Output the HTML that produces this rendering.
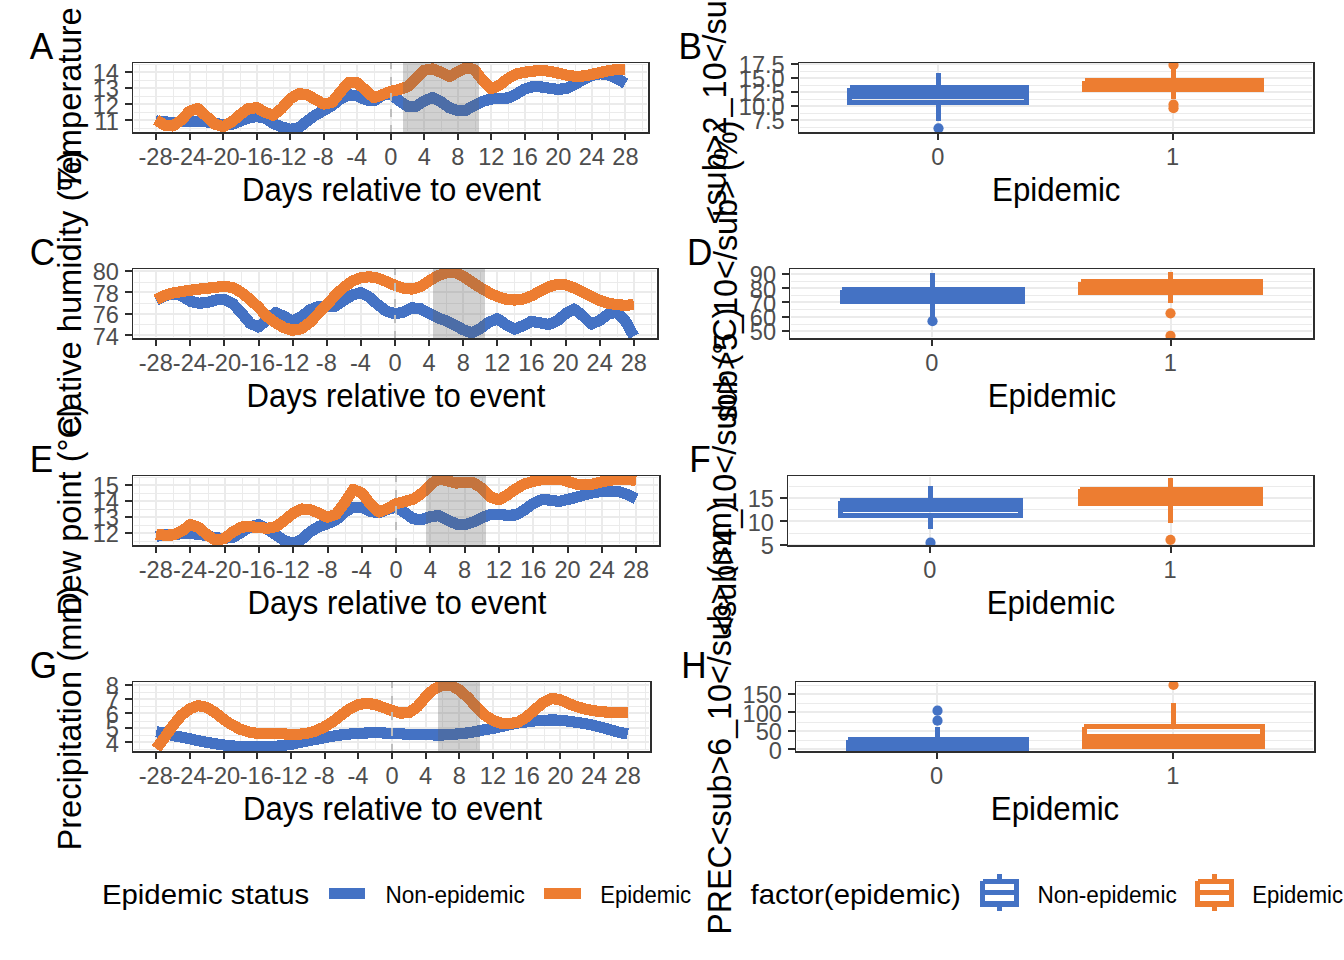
<!DOCTYPE html>
<html><head><meta charset="utf-8"><title>Figure</title>
<style>html,body{margin:0;padding:0;background:#fff}svg{display:block}text{font-family:"Liberation Sans",Arial,sans-serif}</style></head>
<body>
<svg width="1344" height="960" viewBox="0 0 1344 960" shape-rendering="crispEdges">
<rect width="1344" height="960" fill="#fff"/>
<defs><clipPath id="cutB"><rect x="0" y="0" width="1344" height="227.5"/></clipPath><clipPath id="cutC"><rect x="0" y="0" width="1344" height="436.6"/></clipPath><clipPath id="cutD"><rect x="0" y="0" width="1344" height="422.6"/></clipPath><clipPath id="cutF"><rect x="0" y="0" width="1344" height="641"/></clipPath></defs>
<clipPath id="cl0"><rect x="132.6" y="62.6" width="516.6" height="70.3"/></clipPath>
<g clip-path="url(#cl0)">
<path d="M134 64.5H647M134 80.5H647M134 96.5H647M134 112.5H647M134 128.5H647M139.5 64V131M173.5 64V131M206.5 64V131M240.5 64V131M273.5 64V131M307.5 64V131M340.5 64V131M374.5 64V131M407.5 64V131M441.5 64V131M475.5 64V131M508.5 64V131M542.5 64V131M575.5 64V131M609.5 64V131M642.5 64V131" stroke="#EBEBEB" stroke-width="1" fill="none"/>
<path d="M134 72H647M134 88H647M134 104H647M134 120H647M156 64V131M190 64V131M223 64V131M257 64V131M290 64V131M324 64V131M357 64V131M391 64V131M424 64V131M458 64V131M491 64V131M525 64V131M558 64V131M592 64V131M625 64V131" stroke="#EBEBEB" stroke-width="2" fill="none"/>
<polyline points="155.98,120.88 164.36,121.75 172.74,122.62 181.12,121.62 189.51,121.25 197.89,121.5 206.27,121.88 214.66,123.12 223.04,124.75 231.42,124.5 239.81,121.25 248.19,118.12 256.57,116.62 264.95,117.81 273.34,123.56 281.72,126.88 290.1,129.25 298.49,128.12 306.87,121.25 315.25,115 323.64,110.62 332.02,105.62 340.4,99 348.78,94.75 357.17,95.62 365.55,99.75 373.93,100.88 382.32,95.25 390.7,93.75 399.08,100.69 407.47,106.38 415.85,106.38 424.23,100.94 432.62,97.5 441,101.88 449.38,107.75 457.76,110.5 466.15,110.12 474.53,105.25 482.91,101.25 491.3,99 499.68,98.38 508.06,98 516.44,93.88 524.83,89 533.21,86.5 541.59,87 549.98,88.31 558.36,89.44 566.74,88.25 575.13,84.38 583.51,79.38 591.89,75.5 600.27,73.75 608.66,75 617.04,78.5 625.42,83.5" fill="none" stroke="#4472C4" stroke-width="11.2" stroke-linejoin="round" stroke-linecap="butt"/>
<polyline points="155.98,119.75 164.36,125 172.74,126 181.12,120.25 189.51,111.25 197.89,108.5 206.27,116.25 214.66,124 223.04,126.62 231.42,122.12 239.81,115 248.19,108.75 256.57,107.62 264.95,112.19 273.34,115.25 281.72,108.44 290.1,98.88 298.49,93.75 306.87,94.5 315.25,99.38 323.64,104 332.02,102.5 340.4,91.88 348.78,82.25 357.17,82.75 365.55,90.25 373.93,97.75 382.32,94.75 390.7,91.38 399.08,89.5 407.47,86.75 415.85,78.56 424.23,70.31 432.62,69 441,72.25 449.38,76.62 457.76,71.88 466.15,67.5 474.53,69.75 482.91,80.62 491.3,88.75 499.68,85 508.06,78.5 516.44,74 524.83,72.25 533.21,71.12 541.59,70.38 549.98,71.31 558.36,73.19 566.74,75.12 575.13,76.38 583.51,76 591.89,74.38 600.27,72.5 608.66,70.62 617.04,69.5 625.42,69.38" fill="none" stroke="#ED7D31" stroke-width="11.2" stroke-linejoin="round" stroke-linecap="butt"/>
<path d="M391 132.9V62.6" stroke="#BEBEBE" stroke-width="2" stroke-dasharray="7.7 8.3" fill="none"/>
<rect x="403" y="62.6" width="76" height="70.3" fill="#606060" fill-opacity="0.29"/>
</g>
<path d="M132.5 62V134M132 62.5H650" stroke="#2E2E2E" stroke-width="1" fill="none"/>
<path d="M649 62V134M132 133H650" stroke="#2E2E2E" stroke-width="2" fill="none"/>
<path d="M125.1 72H132M125.1 88H132M125.1 104H132M125.1 120H132M156 134V140.2M190 134V140.2M223 134V140.2M257 134V140.2M290 134V140.2M324 134V140.2M357 134V140.2M391 134V140.2M424 134V140.2M458 134V140.2M491 134V140.2M525 134V140.2M558 134V140.2M592 134V140.2M625 134V140.2" stroke="#2E2E2E" stroke-width="2" fill="none"/>
<g font-size="24.3" fill="#4D4D4D">
<text x="119" y="81.3" text-anchor="end" textLength="26.25" lengthAdjust="spacingAndGlyphs">14</text>
<text x="119" y="97.4" text-anchor="end" textLength="26.25" lengthAdjust="spacingAndGlyphs">13</text>
<text x="119" y="113.5" text-anchor="end" textLength="26.25" lengthAdjust="spacingAndGlyphs">12</text>
<text x="119" y="129.6" text-anchor="end" textLength="24.5" lengthAdjust="spacingAndGlyphs">11</text>
<text x="155.58" y="164.8" text-anchor="middle" textLength="34.11" lengthAdjust="spacingAndGlyphs">-28</text>
<text x="189.11" y="164.8" text-anchor="middle" textLength="34.11" lengthAdjust="spacingAndGlyphs">-24</text>
<text x="222.64" y="164.8" text-anchor="middle" textLength="34.11" lengthAdjust="spacingAndGlyphs">-20</text>
<text x="256.17" y="164.8" text-anchor="middle" textLength="34.11" lengthAdjust="spacingAndGlyphs">-16</text>
<text x="289.7" y="164.8" text-anchor="middle" textLength="34.11" lengthAdjust="spacingAndGlyphs">-12</text>
<text x="323.24" y="164.8" text-anchor="middle" textLength="20.98" lengthAdjust="spacingAndGlyphs">-8</text>
<text x="356.77" y="164.8" text-anchor="middle" textLength="20.98" lengthAdjust="spacingAndGlyphs">-4</text>
<text x="390.7" y="164.8" text-anchor="middle" textLength="13.13" lengthAdjust="spacingAndGlyphs">0</text>
<text x="424.23" y="164.8" text-anchor="middle" textLength="13.13" lengthAdjust="spacingAndGlyphs">4</text>
<text x="457.76" y="164.8" text-anchor="middle" textLength="13.13" lengthAdjust="spacingAndGlyphs">8</text>
<text x="491.3" y="164.8" text-anchor="middle" textLength="26.25" lengthAdjust="spacingAndGlyphs">12</text>
<text x="524.83" y="164.8" text-anchor="middle" textLength="26.25" lengthAdjust="spacingAndGlyphs">16</text>
<text x="558.36" y="164.8" text-anchor="middle" textLength="26.25" lengthAdjust="spacingAndGlyphs">20</text>
<text x="591.89" y="164.8" text-anchor="middle" textLength="26.25" lengthAdjust="spacingAndGlyphs">24</text>
<text x="625.42" y="164.8" text-anchor="middle" textLength="26.25" lengthAdjust="spacingAndGlyphs">28</text>
</g>
<text x="391.5" y="200.8" font-size="33.0" text-anchor="middle" textLength="299" lengthAdjust="spacingAndGlyphs">Days relative to event</text>
<g><text transform="translate(81.0 98.95) rotate(-90)" font-size="33.6" text-anchor="middle" textLength="183.5" lengthAdjust="spacingAndGlyphs">Temperature</text></g>
<text x="29.8" y="58.8" font-size="36.4" textLength="23.48" lengthAdjust="spacingAndGlyphs">A</text>
<clipPath id="cl1"><rect x="132.6" y="268.7" width="525.5" height="70.2"/></clipPath>
<g clip-path="url(#cl1)">
<path d="M134 282.5H656M134 303.5H656M134 324.5H656M139.5 270V337M173.5 270V337M207.5 270V337M241.5 270V337M276.5 270V337M310.5 270V337M344.5 270V337M378.5 270V337M412.5 270V337M446.5 270V337M480.5 270V337M514.5 270V337M549.5 270V337M583.5 270V337M617.5 270V337M651.5 270V337" stroke="#EBEBEB" stroke-width="1" fill="none"/>
<path d="M134 271H656M134 292H656M134 314H656M134 335H656M156 270V337M190 270V337M224 270V337M259 270V337M293 270V337M327 270V337M361 270V337M395 270V337M429 270V337M463 270V337M497 270V337M531 270V337M566 270V337M600 270V337M634 270V337" stroke="#EBEBEB" stroke-width="2" fill="none"/>
<polyline points="156.16,300.12 164.69,295.62 173.22,293.75 181.75,295.75 190.28,301.25 198.81,303.25 207.34,302.5 215.87,300 224.4,299.25 232.93,303.75 241.46,312.88 249.99,323.25 258.52,327 267.05,319.75 275.58,312.62 284.11,316.31 292.64,321.19 301.17,316.88 309.7,310 318.23,306.62 326.76,306.62 335.29,306.25 343.82,300.38 352.35,295 360.88,292.5 369.41,297.25 377.94,304.75 386.47,311.25 395,313.69 403.53,312.12 412.06,307.81 420.59,308.75 429.12,313.44 437.65,317.75 446.18,320.75 454.71,325 463.24,329.75 471.77,332.88 480.3,328.5 488.83,322.25 497.36,318.75 505.89,324.5 514.42,329.12 522.95,325.75 531.48,321.25 540.01,322.88 548.54,324.5 557.07,321 565.6,313.75 574.13,309 582.66,315.75 591.19,324.12 599.72,320.38 608.25,314.12 616.78,312 625.31,320.88 633.84,336.25" fill="none" stroke="#4472C4" stroke-width="11.2" stroke-linejoin="round" stroke-linecap="butt"/>
<polyline points="156.16,299.75 164.69,295.38 173.22,293 181.75,291.5 190.28,290.25 198.81,289.12 207.34,288.25 215.87,287.25 224.4,286.38 232.93,287.5 241.46,292.5 249.99,299.5 258.52,307.25 267.05,316.62 275.58,322.81 284.11,327.69 292.64,330.31 301.17,328.75 309.7,322.5 318.23,313.75 326.76,304.75 335.29,295.38 343.82,287.25 352.35,281 360.88,277.62 369.41,276.75 377.94,278.25 386.47,281.62 395,285.38 403.53,288.12 412.06,289.06 420.59,286.62 429.12,281 437.65,275.75 446.18,272.88 454.71,272.25 463.24,276.25 471.77,282 480.3,287.62 488.83,292.5 497.36,296.62 505.89,299.12 514.42,300 522.95,299.12 531.48,295.88 540.01,291.31 548.54,286.81 557.07,284.5 565.6,284.88 574.13,287.88 582.66,292 591.19,296.38 599.72,300.5 608.25,303.25 616.78,304.5 625.31,305.38 633.84,304.5" fill="none" stroke="#ED7D31" stroke-width="11.2" stroke-linejoin="round" stroke-linecap="butt"/>
<path d="M395 338.9V268.7" stroke="#BEBEBE" stroke-width="2" stroke-dasharray="7.7 8.3" fill="none"/>
<rect x="433" y="268.7" width="52" height="70.2" fill="#606060" fill-opacity="0.29"/>
</g>
<path d="M132.5 268V340M132 268.5H659" stroke="#2E2E2E" stroke-width="1" fill="none"/>
<path d="M658 268V340M132 339H659" stroke="#2E2E2E" stroke-width="2" fill="none"/>
<path d="M125.1 271H132M125.1 292H132M125.1 314H132M125.1 335H132M156 340V346.2M190 340V346.2M224 340V346.2M259 340V346.2M293 340V346.2M327 340V346.2M361 340V346.2M395 340V346.2M429 340V346.2M463 340V346.2M497 340V346.2M531 340V346.2M566 340V346.2M600 340V346.2M634 340V346.2" stroke="#2E2E2E" stroke-width="2" fill="none"/>
<g font-size="24.3" fill="#4D4D4D">
<text x="119" y="280.4" text-anchor="end" textLength="26.25" lengthAdjust="spacingAndGlyphs">80</text>
<text x="119" y="301.85" text-anchor="end" textLength="26.25" lengthAdjust="spacingAndGlyphs">78</text>
<text x="119" y="323.3" text-anchor="end" textLength="26.25" lengthAdjust="spacingAndGlyphs">76</text>
<text x="119" y="344.75" text-anchor="end" textLength="26.25" lengthAdjust="spacingAndGlyphs">74</text>
<text x="155.76" y="370.8" text-anchor="middle" textLength="34.11" lengthAdjust="spacingAndGlyphs">-28</text>
<text x="189.88" y="370.8" text-anchor="middle" textLength="34.11" lengthAdjust="spacingAndGlyphs">-24</text>
<text x="224" y="370.8" text-anchor="middle" textLength="34.11" lengthAdjust="spacingAndGlyphs">-20</text>
<text x="258.12" y="370.8" text-anchor="middle" textLength="34.11" lengthAdjust="spacingAndGlyphs">-16</text>
<text x="292.24" y="370.8" text-anchor="middle" textLength="34.11" lengthAdjust="spacingAndGlyphs">-12</text>
<text x="326.36" y="370.8" text-anchor="middle" textLength="20.98" lengthAdjust="spacingAndGlyphs">-8</text>
<text x="360.48" y="370.8" text-anchor="middle" textLength="20.98" lengthAdjust="spacingAndGlyphs">-4</text>
<text x="395" y="370.8" text-anchor="middle" textLength="13.13" lengthAdjust="spacingAndGlyphs">0</text>
<text x="429.12" y="370.8" text-anchor="middle" textLength="13.13" lengthAdjust="spacingAndGlyphs">4</text>
<text x="463.24" y="370.8" text-anchor="middle" textLength="13.13" lengthAdjust="spacingAndGlyphs">8</text>
<text x="497.36" y="370.8" text-anchor="middle" textLength="26.25" lengthAdjust="spacingAndGlyphs">12</text>
<text x="531.48" y="370.8" text-anchor="middle" textLength="26.25" lengthAdjust="spacingAndGlyphs">16</text>
<text x="565.6" y="370.8" text-anchor="middle" textLength="26.25" lengthAdjust="spacingAndGlyphs">20</text>
<text x="599.72" y="370.8" text-anchor="middle" textLength="26.25" lengthAdjust="spacingAndGlyphs">24</text>
<text x="633.84" y="370.8" text-anchor="middle" textLength="26.25" lengthAdjust="spacingAndGlyphs">28</text>
</g>
<text x="395.95" y="406.8" font-size="33.0" text-anchor="middle" textLength="299" lengthAdjust="spacingAndGlyphs">Days relative to event</text>
<g clip-path="url(#cutC)"><text transform="translate(81.0 305) rotate(-90)" font-size="33.6" text-anchor="middle" textLength="308.5" lengthAdjust="spacingAndGlyphs">Relative humidity (%)</text></g>
<text x="29.8" y="265.3" font-size="36.4" textLength="25.42" lengthAdjust="spacingAndGlyphs">C</text>
<clipPath id="cl2"><rect x="132.6" y="475.6" width="527.6" height="70.3"/></clipPath>
<g clip-path="url(#cl2)">
<path d="M134 477.5H658M134 493.5H658M134 509.5H658M134 525.5H658M134 541.5H658M139.5 477V544M173.5 477V544M208.5 477V544M242.5 477V544M276.5 477V544M310.5 477V544M345.5 477V544M379.5 477V544M413.5 477V544M448.5 477V544M482.5 477V544M516.5 477V544M550.5 477V544M585.5 477V544M619.5 477V544M653.5 477V544" stroke="#EBEBEB" stroke-width="1" fill="none"/>
<path d="M134 485H658M134 501H658M134 517H658M134 533H658M156 477V544M190 477V544M225 477V544M259 477V544M293 477V544M328 477V544M362 477V544M396 477V544M430 477V544M465 477V544M499 477V544M533 477V544M568 477V544M602 477V544M636 477V544" stroke="#EBEBEB" stroke-width="2" fill="none"/>
<polyline points="156.14,536.38 164.71,534.88 173.28,534.62 181.85,533.62 190.42,533.62 198.99,534.25 207.56,535.75 216.13,538 224.7,538.25 233.27,537.12 241.84,532 250.41,526.75 258.98,524.5 267.55,529.44 276.12,534.88 284.69,540.88 293.26,543.5 301.83,539.25 310.4,531.75 318.97,526.5 327.54,523.62 336.11,519.88 344.68,512 353.25,507.25 361.82,507.38 370.39,511.5 378.96,512.75 387.53,509.25 396.1,507.19 404.67,512.62 413.24,518.81 421.81,519.5 430.38,516.75 438.95,515.5 447.52,519.88 456.09,524 464.66,524.88 473.23,522 481.8,517.75 490.37,514.5 498.94,514.5 507.51,515.25 516.08,514.88 524.65,509.88 533.22,503.44 541.79,499.62 550.36,500.12 558.93,501.5 567.5,499.5 576.07,497.38 584.64,494.88 593.21,492.62 601.78,491.38 610.35,490.88 618.92,491.75 627.49,494.5 636.06,498.62" fill="none" stroke="#4472C4" stroke-width="11.2" stroke-linejoin="round" stroke-linecap="butt"/>
<polyline points="156.14,534 164.71,535.25 173.28,534.88 181.85,531.12 190.42,524.5 198.99,527.5 207.56,535.25 216.13,540.5 224.7,538.38 233.27,531.5 241.84,527 250.41,526.75 258.98,527.5 267.55,528.38 276.12,526.62 284.69,520.19 293.26,513.12 301.83,509 310.4,509.75 318.97,513.25 327.54,517.25 336.11,514.25 344.68,502.75 353.25,489.5 361.82,493 370.39,504 378.96,512 387.53,508.62 396.1,503.69 404.67,501.5 413.24,499.25 421.81,493.25 430.38,484.88 438.95,478.38 447.52,480.88 456.09,483 464.66,482.38 473.23,482.62 481.8,488.25 490.37,497 498.94,499.88 507.51,494.88 516.08,488.62 524.65,484 533.22,481.25 541.79,479.69 550.36,478.94 558.93,478.94 567.5,481.38 576.07,484 584.64,484.88 593.21,484 601.78,481.75 610.35,480.12 618.92,479.25 627.49,479.5 636.06,480.5" fill="none" stroke="#ED7D31" stroke-width="11.2" stroke-linejoin="round" stroke-linecap="butt"/>
<path d="M396 545.9V475.6" stroke="#BEBEBE" stroke-width="2" stroke-dasharray="7.7 8.3" fill="none"/>
<rect x="426" y="475.6" width="60" height="70.3" fill="#606060" fill-opacity="0.29"/>
</g>
<path d="M132.5 475V547M132 475.5H661" stroke="#2E2E2E" stroke-width="1" fill="none"/>
<path d="M660 475V547M132 546H661" stroke="#2E2E2E" stroke-width="2" fill="none"/>
<path d="M125.1 485H132M125.1 501H132M125.1 517H132M125.1 533H132M156 547V553.2M190 547V553.2M225 547V553.2M259 547V553.2M293 547V553.2M328 547V553.2M362 547V553.2M396 547V553.2M430 547V553.2M465 547V553.2M499 547V553.2M533 547V553.2M568 547V553.2M602 547V553.2M636 547V553.2" stroke="#2E2E2E" stroke-width="2" fill="none"/>
<g font-size="24.3" fill="#4D4D4D">
<text x="119" y="494.3" text-anchor="end" textLength="26.25" lengthAdjust="spacingAndGlyphs">15</text>
<text x="119" y="510.35" text-anchor="end" textLength="26.25" lengthAdjust="spacingAndGlyphs">14</text>
<text x="119" y="526.4" text-anchor="end" textLength="26.25" lengthAdjust="spacingAndGlyphs">13</text>
<text x="119" y="542.45" text-anchor="end" textLength="26.25" lengthAdjust="spacingAndGlyphs">12</text>
<text x="155.74" y="577.8" text-anchor="middle" textLength="34.11" lengthAdjust="spacingAndGlyphs">-28</text>
<text x="190.02" y="577.8" text-anchor="middle" textLength="34.11" lengthAdjust="spacingAndGlyphs">-24</text>
<text x="224.3" y="577.8" text-anchor="middle" textLength="34.11" lengthAdjust="spacingAndGlyphs">-20</text>
<text x="258.58" y="577.8" text-anchor="middle" textLength="34.11" lengthAdjust="spacingAndGlyphs">-16</text>
<text x="292.86" y="577.8" text-anchor="middle" textLength="34.11" lengthAdjust="spacingAndGlyphs">-12</text>
<text x="327.14" y="577.8" text-anchor="middle" textLength="20.98" lengthAdjust="spacingAndGlyphs">-8</text>
<text x="361.42" y="577.8" text-anchor="middle" textLength="20.98" lengthAdjust="spacingAndGlyphs">-4</text>
<text x="396.1" y="577.8" text-anchor="middle" textLength="13.13" lengthAdjust="spacingAndGlyphs">0</text>
<text x="430.38" y="577.8" text-anchor="middle" textLength="13.13" lengthAdjust="spacingAndGlyphs">4</text>
<text x="464.66" y="577.8" text-anchor="middle" textLength="13.13" lengthAdjust="spacingAndGlyphs">8</text>
<text x="498.94" y="577.8" text-anchor="middle" textLength="26.25" lengthAdjust="spacingAndGlyphs">12</text>
<text x="533.22" y="577.8" text-anchor="middle" textLength="26.25" lengthAdjust="spacingAndGlyphs">16</text>
<text x="567.5" y="577.8" text-anchor="middle" textLength="26.25" lengthAdjust="spacingAndGlyphs">20</text>
<text x="601.78" y="577.8" text-anchor="middle" textLength="26.25" lengthAdjust="spacingAndGlyphs">24</text>
<text x="636.06" y="577.8" text-anchor="middle" textLength="26.25" lengthAdjust="spacingAndGlyphs">28</text>
</g>
<text x="397" y="613.8" font-size="33.0" text-anchor="middle" textLength="299" lengthAdjust="spacingAndGlyphs">Days relative to event</text>
<g><text transform="translate(81.0 510.05) rotate(-90)" font-size="33.6" text-anchor="middle" textLength="211.5" lengthAdjust="spacingAndGlyphs">Dew point (°C)</text></g>
<text x="29.8" y="471.5" font-size="36.4" textLength="23.48" lengthAdjust="spacingAndGlyphs">E</text>
<clipPath id="cl3"><rect x="132.6" y="681.6" width="518.7" height="70.5"/></clipPath>
<g clip-path="url(#cl3)">
<path d="M134 692.5H649M134 706.5H649M134 721.5H649M134 735.5H649M134 749.5H649M139.5 683V750M173.5 683V750M207.5 683V750M240.5 683V750M274.5 683V750M308.5 683V750M341.5 683V750M375.5 683V750M409.5 683V750M442.5 683V750M476.5 683V750M510.5 683V750M544.5 683V750M577.5 683V750M611.5 683V750M645.5 683V750" stroke="#EBEBEB" stroke-width="1" fill="none"/>
<path d="M134 685H649M134 699H649M134 713H649M134 728H649M134 742H649M156 683V750M190 683V750M224 683V750M257 683V750M291 683V750M325 683V750M358 683V750M392 683V750M426 683V750M459 683V750M493 683V750M527 683V750M560 683V750M594 683V750M628 683V750" stroke="#EBEBEB" stroke-width="2" fill="none"/>
<polyline points="156.19,731.75 164.61,733 173.03,735.62 181.45,737.12 189.87,738.75 198.29,740.75 206.71,742.25 215.13,743.75 223.55,745 231.97,745.88 240.39,746.5 248.81,746.88 257.23,746.88 265.65,746.88 274.07,746.5 282.49,745.5 290.91,744.44 299.33,742.5 307.75,740.88 316.17,739.25 324.59,737.75 333.01,736.12 341.43,734.88 349.85,734 358.27,733.38 366.69,733 375.11,732.38 383.53,733 391.95,733.38 400.37,733.75 408.79,734.38 417.21,734.44 425.63,734.44 434.05,735 442.47,735 450.89,734.5 459.31,733.75 467.73,732.88 476.15,731.5 484.57,729.75 492.99,728.38 501.41,726.5 509.83,724.62 518.25,723 526.67,721.88 535.09,720.81 543.51,720.31 551.93,719.94 560.35,720.25 568.77,721.25 577.19,722.5 585.61,723.75 594.03,725.5 602.45,727.5 610.87,730 619.29,732.38 627.71,734" fill="none" stroke="#4472C4" stroke-width="11.2" stroke-linejoin="round" stroke-linecap="butt"/>
<polyline points="156.19,748.62 164.61,737.62 173.03,725.5 181.45,715.25 189.87,708.88 198.29,705.5 206.71,707.5 215.13,712.5 223.55,719.25 231.97,724.88 240.39,729.25 248.81,732 257.23,733.38 265.65,733.38 274.07,733.5 282.49,733.75 290.91,734.5 299.33,734.25 307.75,733 316.17,730.88 324.59,726.75 333.01,721.5 341.43,715 349.85,708.75 358.27,704.62 366.69,703.38 375.11,704.5 383.53,707.5 391.95,710.5 400.37,713 408.79,712.75 417.21,706.94 425.63,696.94 434.05,689 442.47,685.25 450.89,685.25 459.31,690 467.73,697.5 476.15,706.5 484.57,715 492.99,720.5 501.41,723.25 509.83,723.5 518.25,722.12 526.67,716.94 535.09,709.44 543.51,702.44 551.93,698.44 560.35,699.75 568.77,703.75 577.19,706.75 585.61,709.25 594.03,710.75 602.45,711.75 610.87,712.5 619.29,712.5 627.71,712.5" fill="none" stroke="#ED7D31" stroke-width="11.2" stroke-linejoin="round" stroke-linecap="butt"/>
<path d="M392 752.1V681.6" stroke="#BEBEBE" stroke-width="2" stroke-dasharray="7.7 8.3" fill="none"/>
<rect x="438" y="681.6" width="42" height="70.5" fill="#606060" fill-opacity="0.29"/>
</g>
<path d="M132.5 681V753M132 681.5H652" stroke="#2E2E2E" stroke-width="1" fill="none"/>
<path d="M651 681V753M132 752H652" stroke="#2E2E2E" stroke-width="2" fill="none"/>
<path d="M125.1 685H132M125.1 699H132M125.1 713H132M125.1 728H132M125.1 742H132M156 753V759.4M190 753V759.4M224 753V759.4M257 753V759.4M291 753V759.4M325 753V759.4M358 753V759.4M392 753V759.4M426 753V759.4M459 753V759.4M493 753V759.4M527 753V759.4M560 753V759.4M594 753V759.4M628 753V759.4" stroke="#2E2E2E" stroke-width="2" fill="none"/>
<g font-size="24.3" fill="#4D4D4D">
<text x="119" y="694.2" text-anchor="end" textLength="13.13" lengthAdjust="spacingAndGlyphs">8</text>
<text x="119" y="708.6" text-anchor="end" textLength="13.13" lengthAdjust="spacingAndGlyphs">7</text>
<text x="119" y="722.9" text-anchor="end" textLength="13.13" lengthAdjust="spacingAndGlyphs">6</text>
<text x="119" y="737.3" text-anchor="end" textLength="13.13" lengthAdjust="spacingAndGlyphs">5</text>
<text x="119" y="751.7" text-anchor="end" textLength="13.13" lengthAdjust="spacingAndGlyphs">4</text>
<text x="155.79" y="784" text-anchor="middle" textLength="34.11" lengthAdjust="spacingAndGlyphs">-28</text>
<text x="189.47" y="784" text-anchor="middle" textLength="34.11" lengthAdjust="spacingAndGlyphs">-24</text>
<text x="223.15" y="784" text-anchor="middle" textLength="34.11" lengthAdjust="spacingAndGlyphs">-20</text>
<text x="256.83" y="784" text-anchor="middle" textLength="34.11" lengthAdjust="spacingAndGlyphs">-16</text>
<text x="290.51" y="784" text-anchor="middle" textLength="34.11" lengthAdjust="spacingAndGlyphs">-12</text>
<text x="324.19" y="784" text-anchor="middle" textLength="20.98" lengthAdjust="spacingAndGlyphs">-8</text>
<text x="357.87" y="784" text-anchor="middle" textLength="20.98" lengthAdjust="spacingAndGlyphs">-4</text>
<text x="391.95" y="784" text-anchor="middle" textLength="13.13" lengthAdjust="spacingAndGlyphs">0</text>
<text x="425.63" y="784" text-anchor="middle" textLength="13.13" lengthAdjust="spacingAndGlyphs">4</text>
<text x="459.31" y="784" text-anchor="middle" textLength="13.13" lengthAdjust="spacingAndGlyphs">8</text>
<text x="492.99" y="784" text-anchor="middle" textLength="26.25" lengthAdjust="spacingAndGlyphs">12</text>
<text x="526.67" y="784" text-anchor="middle" textLength="26.25" lengthAdjust="spacingAndGlyphs">16</text>
<text x="560.35" y="784" text-anchor="middle" textLength="26.25" lengthAdjust="spacingAndGlyphs">20</text>
<text x="594.03" y="784" text-anchor="middle" textLength="26.25" lengthAdjust="spacingAndGlyphs">24</text>
<text x="627.71" y="784" text-anchor="middle" textLength="26.25" lengthAdjust="spacingAndGlyphs">28</text>
</g>
<text x="392.55" y="820" font-size="33.0" text-anchor="middle" textLength="299" lengthAdjust="spacingAndGlyphs">Days relative to event</text>
<g><text transform="translate(81.0 718.05) rotate(-90)" font-size="33.6" text-anchor="middle" textLength="265" lengthAdjust="spacingAndGlyphs">Precipitation (mm)</text></g>
<text x="29.8" y="678.1" font-size="36.4" textLength="27.38" lengthAdjust="spacingAndGlyphs">G</text>
<clipPath id="cr0"><rect x="798.3" y="62.6" width="516" height="70.3"/></clipPath>
<g clip-path="url(#cr0)">
<path d="M800 71.5H1312M800 85.5H1312M800 99.5H1312M800 113.5H1312M800 127.5H1312" stroke="#EBEBEB" stroke-width="1" fill="none"/>
<path d="M800 64H1312M800 78H1312M800 92H1312M800 106H1312M800 120H1312M938 64V131M1173 64V131" stroke="#EBEBEB" stroke-width="2" fill="none"/>
<path d="M938.5 73V87.5M938.5 102.5V120.8" stroke="#4472C4" stroke-width="5.0" fill="none"/>
<path d="M849.95 87.5V102.5H1026.85V87.5H849.95" stroke="#4472C4" stroke-width="5.0" fill="none" stroke-linejoin="miter"/>
<path d="M849.95 93.8H1026.85" stroke="#4472C4" stroke-width="10.0" fill="none"/>
<circle cx="938.5" cy="128.3" r="5.1" fill="#4472C4" shape-rendering="geometricPrecision"/>
<path d="M1173.5 69V80.5M1173.5 89.5V99" stroke="#ED7D31" stroke-width="5.0" fill="none"/>
<path d="M1084.65 80.5V89.5H1261.55V80.5H1084.65" stroke="#ED7D31" stroke-width="5.0" fill="none" stroke-linejoin="miter"/>
<path d="M1084.65 85H1261.55" stroke="#ED7D31" stroke-width="10.0" fill="none"/>
<circle cx="1173.5" cy="65" r="5.1" fill="#ED7D31" shape-rendering="geometricPrecision"/>
<circle cx="1173.5" cy="104.5" r="5.1" fill="#ED7D31" shape-rendering="geometricPrecision"/>
<circle cx="1173.5" cy="108.2" r="5.1" fill="#ED7D31" shape-rendering="geometricPrecision"/>
</g>
<path d="M798.5 62V134M798 62.5H1315" stroke="#2E2E2E" stroke-width="1" fill="none"/>
<path d="M1314 62V134M798 133H1315" stroke="#2E2E2E" stroke-width="2" fill="none"/>
<path d="M790.8 64H798M790.8 78H798M790.8 92H798M790.8 106H798M790.8 120H798M938 134V140.2M1173 134V140.2" stroke="#2E2E2E" stroke-width="2" fill="none"/>
<g font-size="24.3" fill="#4D4D4D">
<text x="784.7" y="73.4" text-anchor="end" textLength="45.93" lengthAdjust="spacingAndGlyphs">17.5</text>
<text x="784.7" y="87.4" text-anchor="end" textLength="45.93" lengthAdjust="spacingAndGlyphs">15.0</text>
<text x="784.7" y="101.4" text-anchor="end" textLength="45.93" lengthAdjust="spacingAndGlyphs">12.5</text>
<text x="784.7" y="115.4" text-anchor="end" textLength="45.93" lengthAdjust="spacingAndGlyphs">10.0</text>
<text x="784.7" y="129.4" text-anchor="end" textLength="32.81" lengthAdjust="spacingAndGlyphs">7.5</text>
<text x="937.8" y="164.8" text-anchor="middle" textLength="13.13" lengthAdjust="spacingAndGlyphs">0</text>
<text x="1172.5" y="164.8" text-anchor="middle" textLength="13.13" lengthAdjust="spacingAndGlyphs">1</text>
</g>
<text x="1056.3" y="200.8" font-size="33.0" text-anchor="middle" textLength="128.4" lengthAdjust="spacingAndGlyphs">Epidemic</text>
<g clip-path="url(#cutB)"><text transform="translate(725.7 224.5) rotate(-90)" font-size="33.37" textLength="328.18" lengthAdjust="spacingAndGlyphs">&lt;sub&gt;2_10&lt;/sub&gt; (°C)</text></g>
<text x="678.4" y="58.8" font-size="36.4" textLength="23.48" lengthAdjust="spacingAndGlyphs">B</text>
<clipPath id="cr1"><rect x="789.7" y="268.7" width="524.6" height="70.2"/></clipPath>
<g clip-path="url(#cr1)">
<path d="M791 281.5H1312M791 295.5H1312M791 309.5H1312M791 324.5H1312" stroke="#EBEBEB" stroke-width="1" fill="none"/>
<path d="M791 274H1312M791 288H1312M791 302H1312M791 317H1312M791 331H1312M932 270V337M1171 270V337" stroke="#EBEBEB" stroke-width="2" fill="none"/>
<path d="M932.5 273V289.5M932.5 301.2V318" stroke="#4472C4" stroke-width="5.0" fill="none"/>
<path d="M842.48 289.5V301.2H1022.32V289.5H842.48" stroke="#4472C4" stroke-width="5.0" fill="none" stroke-linejoin="miter"/>
<path d="M842.48 295H1022.32" stroke="#4472C4" stroke-width="10.0" fill="none"/>
<circle cx="932.5" cy="321.2" r="5.1" fill="#4472C4" shape-rendering="geometricPrecision"/>
<path d="M1170.5 272.2V281.7M1170.5 292.8V302.5" stroke="#ED7D31" stroke-width="5.0" fill="none"/>
<path d="M1080.98 281.7V292.8H1260.82V281.7H1080.98" stroke="#ED7D31" stroke-width="5.0" fill="none" stroke-linejoin="miter"/>
<path d="M1080.98 287H1260.82" stroke="#ED7D31" stroke-width="10.0" fill="none"/>
<circle cx="1170.5" cy="313.3" r="5.1" fill="#ED7D31" shape-rendering="geometricPrecision"/>
<circle cx="1170.5" cy="335.8" r="5.1" fill="#ED7D31" shape-rendering="geometricPrecision"/>
</g>
<path d="M789.5 268V340M789 268.5H1315" stroke="#2E2E2E" stroke-width="1" fill="none"/>
<path d="M1314 268V340M789 339H1315" stroke="#2E2E2E" stroke-width="2" fill="none"/>
<path d="M782.2 274H789M782.2 288H789M782.2 302H789M782.2 317H789M782.2 331H789M932 340V346.2M1171 340V346.2" stroke="#2E2E2E" stroke-width="2" fill="none"/>
<g font-size="24.3" fill="#4D4D4D">
<text x="776.1" y="283.4" text-anchor="end" textLength="26.25" lengthAdjust="spacingAndGlyphs">90</text>
<text x="776.1" y="297.65" text-anchor="end" textLength="26.25" lengthAdjust="spacingAndGlyphs">80</text>
<text x="776.1" y="311.9" text-anchor="end" textLength="26.25" lengthAdjust="spacingAndGlyphs">70</text>
<text x="776.1" y="326.15" text-anchor="end" textLength="26.25" lengthAdjust="spacingAndGlyphs">60</text>
<text x="776.1" y="340.4" text-anchor="end" textLength="26.25" lengthAdjust="spacingAndGlyphs">50</text>
<text x="931.8" y="370.8" text-anchor="middle" textLength="13.13" lengthAdjust="spacingAndGlyphs">0</text>
<text x="1170.3" y="370.8" text-anchor="middle" textLength="13.13" lengthAdjust="spacingAndGlyphs">1</text>
</g>
<text x="1052" y="406.8" font-size="33.0" text-anchor="middle" textLength="128.4" lengthAdjust="spacingAndGlyphs">Epidemic</text>
<g clip-path="url(#cutD)"><text transform="translate(737.4 441.2) rotate(-90)" font-size="33.37" textLength="320.63" lengthAdjust="spacingAndGlyphs">&lt;sub&gt;5_10&lt;/sub&gt; (%)</text></g>
<text x="687" y="265.3" font-size="36.4" textLength="25.42" lengthAdjust="spacingAndGlyphs">D</text>
<clipPath id="cr2"><rect x="787.5" y="475.6" width="526.8" height="70.4"/></clipPath>
<g clip-path="url(#cr2)">
<path d="M789 486.5H1312M789 509.5H1312M789 533.5H1312" stroke="#EBEBEB" stroke-width="1" fill="none"/>
<path d="M789 498H1312M789 521H1312M789 545H1312M930 477V544M1171 477V544" stroke="#EBEBEB" stroke-width="2" fill="none"/>
<path d="M930.5 486V500.5M930.5 515.5V528.8" stroke="#4472C4" stroke-width="5.0" fill="none"/>
<path d="M840.2 500.5V515.5H1020.8V500.5H840.2" stroke="#4472C4" stroke-width="5.0" fill="none" stroke-linejoin="miter"/>
<path d="M840.2 507.2H1020.8" stroke="#4472C4" stroke-width="10.0" fill="none"/>
<circle cx="930.5" cy="542.7" r="5.1" fill="#4472C4" shape-rendering="geometricPrecision"/>
<path d="M1170.5 478.2V489.3M1170.5 503.2V522.7" stroke="#ED7D31" stroke-width="5.0" fill="none"/>
<path d="M1080.3 489.3V503.2H1260.9V489.3H1080.3" stroke="#ED7D31" stroke-width="5.0" fill="none" stroke-linejoin="miter"/>
<path d="M1080.3 496H1260.9" stroke="#ED7D31" stroke-width="10.0" fill="none"/>
<circle cx="1170.5" cy="539.8" r="5.1" fill="#ED7D31" shape-rendering="geometricPrecision"/>
</g>
<path d="M787.5 475V547M787 475.5H1315" stroke="#2E2E2E" stroke-width="1" fill="none"/>
<path d="M1314 475V547M787 546H1315" stroke="#2E2E2E" stroke-width="2" fill="none"/>
<path d="M780 498H787M780 521H787M780 545H787M930 547V553.3M1171 547V553.3" stroke="#2E2E2E" stroke-width="2" fill="none"/>
<g font-size="24.3" fill="#4D4D4D">
<text x="773.9" y="507.2" text-anchor="end" textLength="26.25" lengthAdjust="spacingAndGlyphs">15</text>
<text x="773.9" y="530.7" text-anchor="end" textLength="26.25" lengthAdjust="spacingAndGlyphs">10</text>
<text x="773.9" y="554.2" text-anchor="end" textLength="13.13" lengthAdjust="spacingAndGlyphs">5</text>
<text x="929.9" y="577.9" text-anchor="middle" textLength="13.13" lengthAdjust="spacingAndGlyphs">0</text>
<text x="1170" y="577.9" text-anchor="middle" textLength="13.13" lengthAdjust="spacingAndGlyphs">1</text>
</g>
<text x="1050.9" y="613.9" font-size="33.0" text-anchor="middle" textLength="128.4" lengthAdjust="spacingAndGlyphs">Epidemic</text>
<g clip-path="url(#cutF)"><text transform="translate(736.4 635.8) rotate(-90)" font-size="33.37" textLength="328.18" lengthAdjust="spacingAndGlyphs">&lt;sub&gt;4_10&lt;/sub&gt; (°C)</text></g>
<text x="689.2" y="471.5" font-size="36.4" textLength="21.5" lengthAdjust="spacingAndGlyphs">F</text>
<clipPath id="cr3"><rect x="795.5" y="681.6" width="519.1" height="70.5"/></clipPath>
<g clip-path="url(#cr3)">
<path d="M797 685.5H1313M797 703.5H1313M797 722.5H1313M797 740.5H1313" stroke="#EBEBEB" stroke-width="1" fill="none"/>
<path d="M797 694H1313M797 712H1313M797 731H1313M797 749H1313M937 683V750M1173 683V750" stroke="#EBEBEB" stroke-width="2" fill="none"/>
<path d="M937.5 727V739.8" stroke="#4472C4" stroke-width="5.0" fill="none"/>
<path d="M848.22 739.8V751H1026.18V739.8H848.22" stroke="#4472C4" stroke-width="5.0" fill="none" stroke-linejoin="miter"/>
<path d="M848.22 746H1026.18" stroke="#4472C4" stroke-width="10.0" fill="none"/>
<circle cx="937.5" cy="710.7" r="5.1" fill="#4472C4" shape-rendering="geometricPrecision"/>
<circle cx="937.5" cy="720.7" r="5.1" fill="#4472C4" shape-rendering="geometricPrecision"/>
<path d="M1173.5 703V726.7" stroke="#ED7D31" stroke-width="5.0" fill="none"/>
<path d="M1084.42 726.7V746.25H1262.38V726.7H1084.42" stroke="#ED7D31" stroke-width="5.0" fill="none" stroke-linejoin="miter"/>
<path d="M1084.42 739.2H1262.38" stroke="#ED7D31" stroke-width="10.0" fill="none"/>
<circle cx="1173.5" cy="685" r="5.1" fill="#ED7D31" shape-rendering="geometricPrecision"/>
</g>
<path d="M795.5 681V753M795 681.5H1316" stroke="#2E2E2E" stroke-width="1" fill="none"/>
<path d="M1315 681V753M795 752H1316" stroke="#2E2E2E" stroke-width="2" fill="none"/>
<path d="M788 694H795M788 712H795M788 731H795M788 749H795M937 753V759.4M1173 753V759.4" stroke="#2E2E2E" stroke-width="2" fill="none"/>
<g font-size="24.3" fill="#4D4D4D">
<text x="781.9" y="703.4" text-anchor="end" textLength="39.38" lengthAdjust="spacingAndGlyphs">150</text>
<text x="781.9" y="721.9" text-anchor="end" textLength="39.38" lengthAdjust="spacingAndGlyphs">100</text>
<text x="781.9" y="740.4" text-anchor="end" textLength="26.25" lengthAdjust="spacingAndGlyphs">50</text>
<text x="781.9" y="758.9" text-anchor="end" textLength="13.13" lengthAdjust="spacingAndGlyphs">0</text>
<text x="936.6" y="784" text-anchor="middle" textLength="13.13" lengthAdjust="spacingAndGlyphs">0</text>
<text x="1172.8" y="784" text-anchor="middle" textLength="13.13" lengthAdjust="spacingAndGlyphs">1</text>
</g>
<text x="1055.05" y="820" font-size="33.0" text-anchor="middle" textLength="128.4" lengthAdjust="spacingAndGlyphs">Epidemic</text>
<g><text transform="translate(731.2 934.7) rotate(-90)" font-size="33.17" textLength="433.13" lengthAdjust="spacingAndGlyphs">PREC&lt;sub&gt;6_10&lt;/sub&gt; (mm)</text></g>
<text x="681.2" y="678.1" font-size="36.4" textLength="25.42" lengthAdjust="spacingAndGlyphs">H</text>
<text x="101.9" y="903.8" font-size="28" textLength="207.3" lengthAdjust="spacingAndGlyphs">Epidemic status</text>
<rect x="329" y="888" width="36" height="11" fill="#4472C4"/>
<text x="385.5" y="903" font-size="23" textLength="139.3" lengthAdjust="spacingAndGlyphs">Non-epidemic</text>
<rect x="544" y="888" width="37" height="11" fill="#ED7D31"/>
<text x="600.3" y="903" font-size="23" textLength="90.8" lengthAdjust="spacingAndGlyphs">Epidemic</text>
<text x="750.5" y="903.8" font-size="28" textLength="210.3" lengthAdjust="spacingAndGlyphs">factor(epidemic)</text>
<path d="M999.5 874V881M999.5 904V911" stroke="#4472C4" stroke-width="5" fill="none"/>
<path d="M982.5 881.2V904H1016.5V881.2H982.5M982.5 892.5H1016.5" stroke="#4472C4" stroke-width="5.4" fill="none" stroke-linejoin="miter"/>
<text x="1037.4" y="903" font-size="23" textLength="139.3" lengthAdjust="spacingAndGlyphs">Non-epidemic</text>
<path d="M1214.5 874V881M1214.5 904V911" stroke="#ED7D31" stroke-width="5" fill="none"/>
<path d="M1197.5 881.2V904H1231.5V881.2H1197.5M1197.5 892.5H1231.5" stroke="#ED7D31" stroke-width="5.4" fill="none" stroke-linejoin="miter"/>
<text x="1252.2" y="903" font-size="23" textLength="90.8" lengthAdjust="spacingAndGlyphs">Epidemic</text>
</svg>
</body></html>
